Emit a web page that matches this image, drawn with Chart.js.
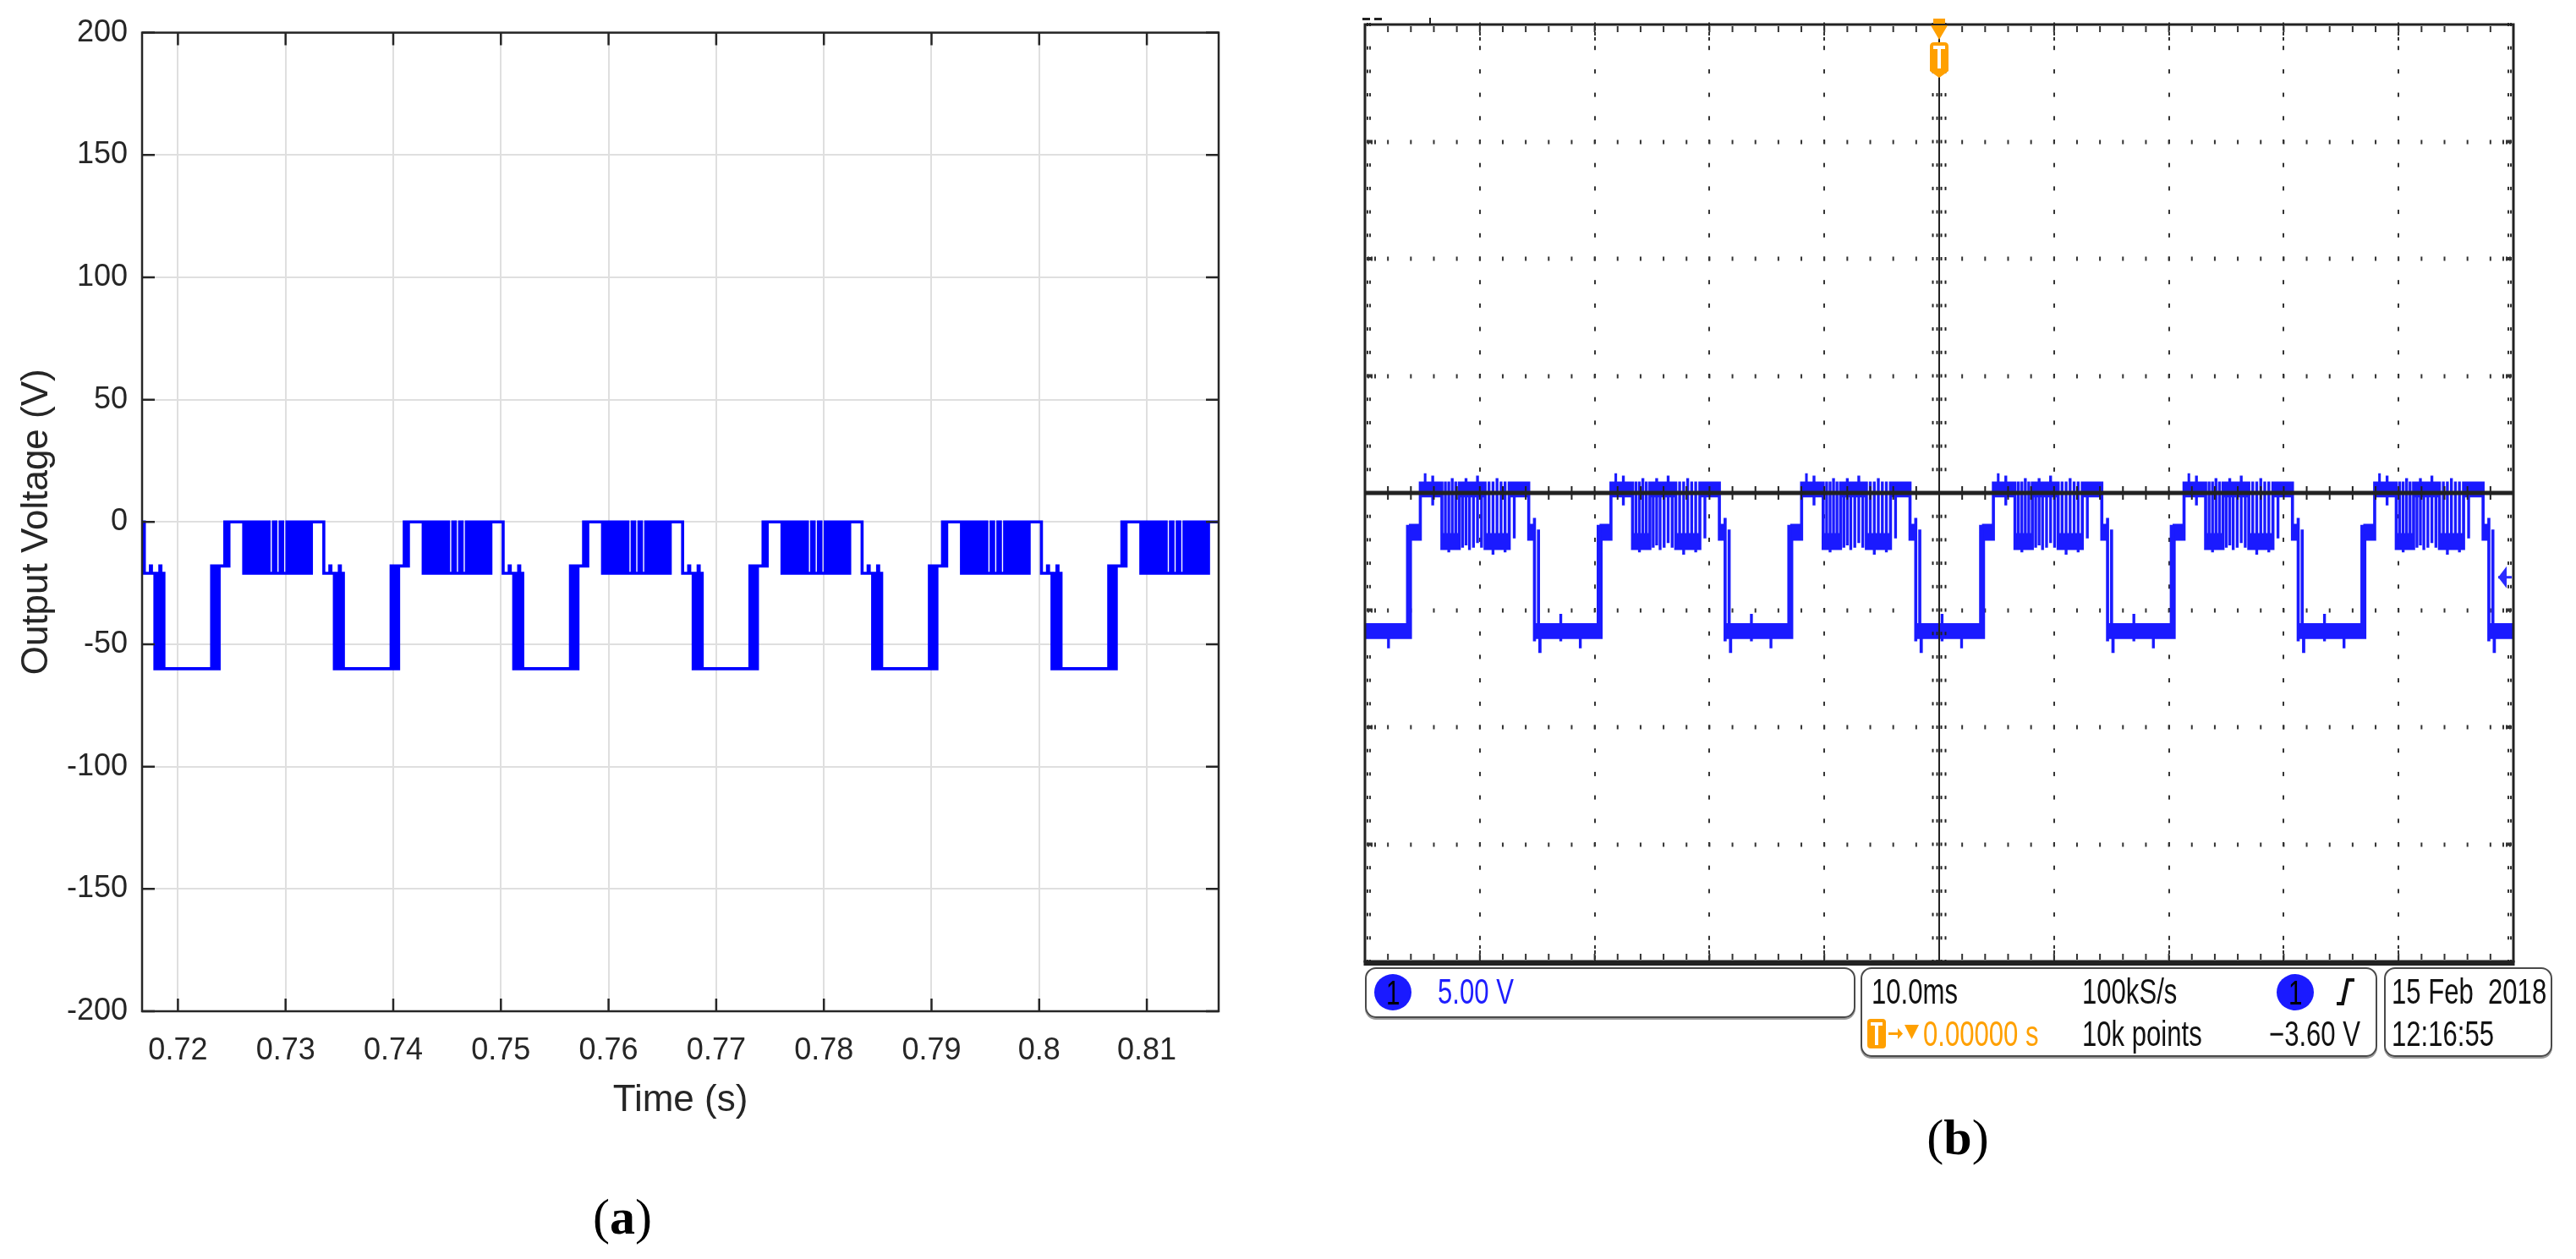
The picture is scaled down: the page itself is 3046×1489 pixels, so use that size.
<!DOCTYPE html>
<html>
<head>
<meta charset="utf-8">
<script src="https://cdn.jsdelivr.net/npm/chart.js@4/dist/chart.umd.min.js"></script>
<style>
html,body{margin:0;padding:0;background:#fff;}
body{width:3046px;height:1489px;position:relative;overflow:hidden;font-family:"Liberation Sans",Arial,sans-serif;}
#cA{position:absolute;left:0;top:0;width:1500px;height:1340px;}
#cB{position:absolute;left:1560px;top:0;width:1486px;height:1489px;}
.cap{position:absolute;font-family:"Liberation Serif","Times New Roman",serif;font-size:60px;line-height:60px;color:#000;transform:translateX(-50%);white-space:nowrap;}
.cap b{font-weight:bold;}
.box{position:absolute;border:2px solid #4a4a4a;border-radius:13px;box-sizing:border-box;box-shadow:0 2px 0 #9a9a9a;}
.st{position:absolute;font-family:"Liberation Sans",Arial,sans-serif;font-size:42px;line-height:42px;white-space:nowrap;transform:scaleX(0.74);transform-origin:0 50%;color:#111;}
.ch{position:absolute;width:44px;height:43px;border-radius:50%;background:#1a1aff;display:flex;align-items:center;justify-content:center;}
.ch span{font-family:"Liberation Sans",Arial,sans-serif;font-size:40px;line-height:40px;color:#000;transform:scaleX(0.74);display:inline-block;}
.ic{position:absolute;}
</style>
</head>
<body>
<canvas id="cA" width="1500" height="1340"></canvas>
<canvas id="cB" width="1486" height="1489"></canvas>

<div class="cap" style="left:736px;top:1409px">(<b>a</b>)</div>
<div class="cap" style="left:2315px;top:1315px">(<b>b</b>)</div>

<div class="box" style="left:1614px;top:1144px;width:580px;height:60px"></div>
<div class="box" style="left:2200px;top:1144px;width:611px;height:106px"></div>
<div class="box" style="left:2819px;top:1144px;width:199px;height:106px"></div>

<div class="ch" style="left:1625px;top:1152px"><span>1</span></div>
<div class="st" style="left:1700px;top:1152px;color:#1e1eff">5.00 V</div>

<div class="st" style="left:2213px;top:1152px">10.0ms</div>
<div class="st" style="left:2462px;top:1152px">100kS/s</div>
<div class="ch" style="left:2692px;top:1152px"><span>1</span></div>
<svg class="ic" style="left:2761px;top:1156px" width="26" height="34" viewBox="0 0 26 34">
  <polyline points="2,31 9,31 15,3 23,3" fill="none" stroke="#111" stroke-width="4"/>
</svg>
<div class="st" style="left:2828px;top:1152px">15 Feb&nbsp;&nbsp;2018</div>

<svg class="ic" style="left:2207px;top:1204px" width="66" height="38" viewBox="0 0 66 38">
  <rect x="1" y="1" width="22" height="35" rx="4" fill="#ffa000"/>
  <rect x="5" y="5" width="14" height="4" fill="#fff"/>
  <rect x="10" y="5" width="4" height="27" fill="#fff"/>
  <rect x="26" y="17" width="12" height="3" fill="#ffa000"/>
  <polygon points="37,12 43,18.5 37,25" fill="#ffa000"/>
  <polygon points="45,8 62,8 53.5,25" fill="#ffa000"/>
</svg>
<div class="st" style="left:2274px;top:1202px;color:#ffa000">0.00000 s</div>
<div class="st" style="left:2462px;top:1202px">10k points</div>
<div class="st" style="left:2683px;top:1202px">&minus;3.60 V</div>
<div class="st" style="left:2828px;top:1202px">12:16:55</div>

<script>
// ---------------- (a) simulation: switching instants (s) and new level (V) ----------------
const simTime = [
  0.71667,
  0.71688, 0.71744, 0.71754,
  0.71786, 0.71804, 0.71821, 0.71832, 0.71842, 0.71856, 0.71870,
  0.72313, 0.72330, 0.72348, 0.72365, 0.72383,
  0.72435, 0.72453, 0.72474,
  0.72611, 0.72635, 0.72658, 0.72682, 0.72705, 0.72729, 0.72753, 0.72776, 0.72800, 0.72823, 0.72847, 0.72886, 0.72910,
  0.72949, 0.72973, 0.73012, 0.73036, 0.73059, 0.73083, 0.73106, 0.73130, 0.73153, 0.73177, 0.73201, 0.73224, 0.73240,

  0.73355, 0.73411, 0.73421,
  0.73453, 0.73471, 0.73488, 0.73499, 0.73509, 0.73523, 0.73537,
  0.73980, 0.73997, 0.74015, 0.74032, 0.74050,
  0.74102, 0.74120, 0.74141,
  0.74278, 0.74302, 0.74325, 0.74349, 0.74372, 0.74396, 0.74420, 0.74443, 0.74467, 0.74490, 0.74514, 0.74553, 0.74577,
  0.74616, 0.74640, 0.74679, 0.74703, 0.74726, 0.74750, 0.74773, 0.74797, 0.74820, 0.74844, 0.74868, 0.74891, 0.74907,

  0.75021, 0.75077, 0.75087,
  0.75119, 0.75137, 0.75154, 0.75165, 0.75175, 0.75189, 0.75203,
  0.75646, 0.75663, 0.75681, 0.75698, 0.75716,
  0.75768, 0.75786, 0.75807,
  0.75944, 0.75968, 0.75991, 0.76015, 0.76038, 0.76062, 0.76086, 0.76109, 0.76133, 0.76156, 0.76180, 0.76219, 0.76243,
  0.76282, 0.76306, 0.76345, 0.76369, 0.76392, 0.76416, 0.76439, 0.76463, 0.76486, 0.76510, 0.76534, 0.76557, 0.76573,

  0.76688, 0.76744, 0.76754,
  0.76786, 0.76804, 0.76821, 0.76832, 0.76842, 0.76856, 0.76870,
  0.77313, 0.77330, 0.77348, 0.77365, 0.77383,
  0.77435, 0.77453, 0.77474,
  0.77611, 0.77635, 0.77658, 0.77682, 0.77705, 0.77729, 0.77753, 0.77776, 0.77800, 0.77823, 0.77847, 0.77886, 0.77910,
  0.77949, 0.77973, 0.78012, 0.78036, 0.78059, 0.78083, 0.78106, 0.78130, 0.78153, 0.78177, 0.78201, 0.78224, 0.78240,

  0.78355, 0.78411, 0.78421,
  0.78453, 0.78471, 0.78488, 0.78499, 0.78509, 0.78523, 0.78537,
  0.78980, 0.78997, 0.79015, 0.79032, 0.79050,
  0.79102, 0.79120, 0.79141,
  0.79278, 0.79302, 0.79325, 0.79349, 0.79372, 0.79396, 0.79420, 0.79443, 0.79467, 0.79490, 0.79514, 0.79553, 0.79577,
  0.79616, 0.79640, 0.79679, 0.79703, 0.79726, 0.79750, 0.79773, 0.79797, 0.79820, 0.79844, 0.79868, 0.79891, 0.79907,

  0.80021, 0.80077, 0.80087,
  0.80119, 0.80137, 0.80154, 0.80165, 0.80175, 0.80189, 0.80203,
  0.80646, 0.80663, 0.80681, 0.80698, 0.80716,
  0.80768, 0.80786, 0.80807,
  0.80944, 0.80968, 0.80991, 0.81015, 0.81038, 0.81062, 0.81086, 0.81109, 0.81133, 0.81156, 0.81180, 0.81219, 0.81243,
  0.81282, 0.81306, 0.81345, 0.81369, 0.81392, 0.81416, 0.81439, 0.81463, 0.81486, 0.81510, 0.81534, 0.81557, 0.81573,
  0.81667
];
const simVolt = [
  0,
  -21, -18, -21,
  -60, -21, -60, -18, -60, -21, -60,
  -18, -60, -18, -60, -18,
  0, -18, 0,
  -21, 0, -21, 0, -21, 0, -21, 0, -21, 0, -21, 0, -21, 0, -21, 0, -21, 0, -21, 0, -21, 0, -21, 0, -21, 0,

  -21, -18, -21,
  -60, -21, -60, -18, -60, -21, -60,
  -18, -60, -18, -60, -18,
  0, -18, 0,
  -21, 0, -21, 0, -21, 0, -21, 0, -21, 0, -21, 0, -21, 0, -21, 0, -21, 0, -21, 0, -21, 0, -21, 0, -21, 0,

  -21, -18, -21,
  -60, -21, -60, -18, -60, -21, -60,
  -18, -60, -18, -60, -18,
  0, -18, 0,
  -21, 0, -21, 0, -21, 0, -21, 0, -21, 0, -21, 0, -21, 0, -21, 0, -21, 0, -21, 0, -21, 0, -21, 0, -21, 0,

  -21, -18, -21,
  -60, -21, -60, -18, -60, -21, -60,
  -18, -60, -18, -60, -18,
  0, -18, 0,
  -21, 0, -21, 0, -21, 0, -21, 0, -21, 0, -21, 0, -21, 0, -21, 0, -21, 0, -21, 0, -21, 0, -21, 0, -21, 0,

  -21, -18, -21,
  -60, -21, -60, -18, -60, -21, -60,
  -18, -60, -18, -60, -18,
  0, -18, 0,
  -21, 0, -21, 0, -21, 0, -21, 0, -21, 0, -21, 0, -21, 0, -21, 0, -21, 0, -21, 0, -21, 0, -21, 0, -21, 0,

  -21, -18, -21,
  -60, -21, -60, -18, -60, -21, -60,
  -18, -60, -18, -60, -18,
  0, -18, 0,
  -21, 0, -21, 0, -21, 0, -21, 0, -21, 0, -21, 0, -21, 0, -21, 0, -21, 0, -21, 0, -21, 0, -21, 0, -21, 0,
  0
];
const simXRange = [0.71667, 0.81667];
const simXTicks = [0.72, 0.73, 0.74, 0.75, 0.76, 0.77, 0.78, 0.79, 0.80, 0.81];
const simXTickLabels = ['0.72', '0.73', '0.74', '0.75', '0.76', '0.77', '0.78', '0.79', '0.8', '0.81'];
const simYTicks = [-200, -150, -100, -50, 0, 50, 100, 150, 200];
const simYTickLabels = ['-200', '-150', '-100', '-50', '0', '50', '100', '150', '200'];

// ---------------- (b) oscilloscope: time (ms), displayed trace envelope low/high (V) ----------------
const scopeT = [
  -50.00, -48.00, -47.90,
  -46.35, -46.23, -46.10, -45.98, -45.24, -45.12, -44.80, -44.72, -44.15, -44.05,
  -43.36, -43.24, -43.05, -42.95, -42.75, -42.65, -42.45, -42.35, -42.15, -42.05, -41.85,
  -41.73, -41.55, -41.45, -41.25, -41.15, -40.95, -40.85, -40.60, -40.50, -40.25, -40.15, -39.90, -39.80,
  -39.60, -39.48, -39.25, -39.15, -38.90, -38.80, -38.55, -38.45, -38.20, -38.10, -37.85, -37.75, -37.50,
  -37.38, -37.05, -36.95, -35.80, -35.68,
  -35.30, -35.18, -34.95, -34.83, -34.70, -33.00, -32.90, -31.30, -31.20,

  -29.75, -29.63, -29.50, -29.38, -28.64, -28.52, -28.20, -28.12, -27.55, -27.45,
  -26.76, -26.64, -26.45, -26.35, -26.15, -26.05, -25.85, -25.75, -25.55, -25.45, -25.25,
  -25.13, -24.95, -24.85, -24.65, -24.55, -24.35, -24.25, -24.00, -23.90, -23.65, -23.55, -23.30, -23.20,
  -23.00, -22.88, -22.65, -22.55, -22.30, -22.20, -21.95, -21.85, -21.60, -21.50, -21.25, -21.15, -20.90,
  -20.78, -20.45, -20.35, -19.20, -19.08,
  -18.70, -18.58, -18.35, -18.23, -18.10, -16.40, -16.30, -14.70, -14.60,

  -13.15, -13.03, -12.90, -12.78, -12.04, -11.92, -11.60, -11.52, -10.95, -10.85,
  -10.16, -10.04, -9.85, -9.75, -9.55, -9.45, -9.25, -9.15, -8.95, -8.85, -8.65,
  -8.53, -8.35, -8.25, -8.05, -7.95, -7.75, -7.65, -7.40, -7.30, -7.05, -6.95, -6.70, -6.60,
  -6.40, -6.28, -6.05, -5.95, -5.70, -5.60, -5.35, -5.25, -5.00, -4.90, -4.65, -4.55, -4.30,
  -4.18, -3.85, -3.75, -2.60, -2.48,
  -2.10, -1.98, -1.75, -1.63, -1.50, 0.20, 0.30, 1.90, 2.00,

  3.55, 3.67, 3.80, 3.92, 4.66, 4.78, 5.10, 5.18, 5.75, 5.85,
  6.54, 6.66, 6.85, 6.95, 7.15, 7.25, 7.45, 7.55, 7.75, 7.85, 8.05,
  8.17, 8.35, 8.45, 8.65, 8.75, 8.95, 9.05, 9.30, 9.40, 9.65, 9.75, 10.00, 10.10,
  10.30, 10.42, 10.65, 10.75, 11.00, 11.10, 11.35, 11.45, 11.70, 11.80, 12.05, 12.15, 12.40,
  12.52, 12.85, 12.95, 14.10, 14.22,
  14.60, 14.72, 14.95, 15.07, 15.20, 16.90, 17.00, 18.60, 18.70,

  20.15, 20.27, 20.40, 20.52, 21.26, 21.38, 21.70, 21.78, 22.35, 22.45,
  23.14, 23.26, 23.45, 23.55, 23.75, 23.85, 24.05, 24.15, 24.35, 24.45, 24.65,
  24.77, 24.95, 25.05, 25.25, 25.35, 25.55, 25.65, 25.90, 26.00, 26.25, 26.35, 26.60, 26.70,
  26.90, 27.02, 27.25, 27.35, 27.60, 27.70, 27.95, 28.05, 28.30, 28.40, 28.65, 28.75, 29.00,
  29.12, 29.45, 29.55, 30.70, 30.82,
  31.20, 31.32, 31.55, 31.67, 31.80, 33.50, 33.60, 35.20, 35.30,

  36.75, 36.87, 37.00, 37.12, 37.86, 37.98, 38.30, 38.38, 38.95, 39.05,
  39.74, 39.86, 40.05, 40.15, 40.35, 40.45, 40.65, 40.75, 40.95, 41.05, 41.25,
  41.37, 41.55, 41.65, 41.85, 41.95, 42.15, 42.25, 42.50, 42.60, 42.85, 42.95, 43.20, 43.30,
  43.50, 43.62, 43.85, 43.95, 44.20, 44.30, 44.55, 44.65, 44.90, 45.00, 45.25, 45.35, 45.60,
  45.72, 46.05, 46.15, 47.30, 47.42,
  47.80, 47.92, 48.15, 48.27, 48.40,
  50.00
];
const scopeLo = [
  -6.2, -6.6, -6.2,
  -6.2, -6.2, -6.2, -2.0, -2.0, -0.15, -0.15, -0.15, -0.5, -0.15,
  -2.4, -2.4, -2.4, -2.4, -2.5, -2.4, -2.4, -2.4, -2.4, -2.4, -2.4,
  -0.15, -2.3, -0.15, -2.2, -0.15, -2.4, -0.15, -2.3, -0.15, -2.1, -0.15, -2.3, -0.15,
  -2.4, -2.4, -2.4, -2.4, -2.6, -2.4, -2.4, -2.4, -2.4, -2.4, -2.5, -2.4, -2.4,
  -0.15, -1.9, -0.15, -2.0, -2.0,
  -6.3, -6.2, -6.2, -6.8, -6.2, -6.3, -6.2, -6.6, -6.2,

  -6.2, -6.2, -6.2, -2.0, -2.0, -0.15, -0.15, -0.15, -0.5, -0.15,
  -2.4, -2.4, -2.4, -2.4, -2.5, -2.4, -2.4, -2.4, -2.4, -2.4, -2.4,
  -0.15, -2.3, -0.15, -2.2, -0.15, -2.4, -0.15, -2.3, -0.15, -2.1, -0.15, -2.3, -0.15,
  -2.4, -2.4, -2.4, -2.4, -2.6, -2.4, -2.4, -2.4, -2.4, -2.4, -2.5, -2.4, -2.4,
  -0.15, -1.9, -0.15, -2.0, -2.0,
  -6.3, -6.2, -6.2, -6.8, -6.2, -6.3, -6.2, -6.6, -6.2,

  -6.2, -6.2, -6.2, -2.0, -2.0, -0.15, -0.15, -0.15, -0.5, -0.15,
  -2.4, -2.4, -2.4, -2.4, -2.5, -2.4, -2.4, -2.4, -2.4, -2.4, -2.4,
  -0.15, -2.3, -0.15, -2.2, -0.15, -2.4, -0.15, -2.3, -0.15, -2.1, -0.15, -2.3, -0.15,
  -2.4, -2.4, -2.4, -2.4, -2.6, -2.4, -2.4, -2.4, -2.4, -2.4, -2.5, -2.4, -2.4,
  -0.15, -1.9, -0.15, -2.0, -2.0,
  -6.3, -6.2, -6.2, -6.8, -6.2, -6.3, -6.2, -6.6, -6.2,

  -6.2, -6.2, -6.2, -2.0, -2.0, -0.15, -0.15, -0.15, -0.5, -0.15,
  -2.4, -2.4, -2.4, -2.4, -2.5, -2.4, -2.4, -2.4, -2.4, -2.4, -2.4,
  -0.15, -2.3, -0.15, -2.2, -0.15, -2.4, -0.15, -2.3, -0.15, -2.1, -0.15, -2.3, -0.15,
  -2.4, -2.4, -2.4, -2.4, -2.6, -2.4, -2.4, -2.4, -2.4, -2.4, -2.5, -2.4, -2.4,
  -0.15, -1.9, -0.15, -2.0, -2.0,
  -6.3, -6.2, -6.2, -6.8, -6.2, -6.3, -6.2, -6.6, -6.2,

  -6.2, -6.2, -6.2, -2.0, -2.0, -0.15, -0.15, -0.15, -0.5, -0.15,
  -2.4, -2.4, -2.4, -2.4, -2.5, -2.4, -2.4, -2.4, -2.4, -2.4, -2.4,
  -0.15, -2.3, -0.15, -2.2, -0.15, -2.4, -0.15, -2.3, -0.15, -2.1, -0.15, -2.3, -0.15,
  -2.4, -2.4, -2.4, -2.4, -2.6, -2.4, -2.4, -2.4, -2.4, -2.4, -2.5, -2.4, -2.4,
  -0.15, -1.9, -0.15, -2.0, -2.0,
  -6.3, -6.2, -6.2, -6.8, -6.2, -6.3, -6.2, -6.6, -6.2,

  -6.2, -6.2, -6.2, -2.0, -2.0, -0.15, -0.15, -0.15, -0.5, -0.15,
  -2.4, -2.4, -2.4, -2.4, -2.5, -2.4, -2.4, -2.4, -2.4, -2.4, -2.4,
  -0.15, -2.3, -0.15, -2.2, -0.15, -2.4, -0.15, -2.3, -0.15, -2.1, -0.15, -2.3, -0.15,
  -2.4, -2.4, -2.4, -2.4, -2.6, -2.4, -2.4, -2.4, -2.4, -2.4, -2.5, -2.4, -2.4,
  -0.15, -1.9, -0.15, -2.0, -2.0,
  -6.3, -6.2, -6.2, -6.8, -6.2,
  -6.2
];
const scopeHi = [
  -5.6, -5.6, -5.6,
  -1.4, -5.6, -1.35, -1.35, 0.45, 0.45, 0.8, 0.45, 0.7, 0.45,
  0.45, -1.75, 0.45, -1.75, 0.45, -1.75, 0.6, -1.75, 0.45, -1.75, 0.45,
  0.45, 0.45, 0.45, 0.6, 0.45, 0.45, 0.45, 0.45, 0.45, 0.7, 0.45, 0.45, 0.45,
  0.45, -1.75, 0.45, -1.75, 0.45, -1.75, 0.6, -1.75, 0.45, -1.75, 0.45, -1.75, 0.45,
  0.45, 0.45, 0.45, 0.45, -1.35,
  -1.1, -5.6, -1.6, -5.6, -5.6, -5.2, -5.6, -5.6, -5.6,

  -1.4, -5.6, -1.35, -1.35, 0.45, 0.45, 0.8, 0.45, 0.7, 0.45,
  0.45, -1.75, 0.45, -1.75, 0.45, -1.75, 0.6, -1.75, 0.45, -1.75, 0.45,
  0.45, 0.45, 0.45, 0.6, 0.45, 0.45, 0.45, 0.45, 0.45, 0.7, 0.45, 0.45, 0.45,
  0.45, -1.75, 0.45, -1.75, 0.45, -1.75, 0.6, -1.75, 0.45, -1.75, 0.45, -1.75, 0.45,
  0.45, 0.45, 0.45, 0.45, -1.35,
  -1.1, -5.6, -1.6, -5.6, -5.6, -5.2, -5.6, -5.6, -5.6,

  -1.4, -5.6, -1.35, -1.35, 0.45, 0.45, 0.8, 0.45, 0.7, 0.45,
  0.45, -1.75, 0.45, -1.75, 0.45, -1.75, 0.6, -1.75, 0.45, -1.75, 0.45,
  0.45, 0.45, 0.45, 0.6, 0.45, 0.45, 0.45, 0.45, 0.45, 0.7, 0.45, 0.45, 0.45,
  0.45, -1.75, 0.45, -1.75, 0.45, -1.75, 0.6, -1.75, 0.45, -1.75, 0.45, -1.75, 0.45,
  0.45, 0.45, 0.45, 0.45, -1.35,
  -1.1, -5.6, -1.6, -5.6, -5.6, -5.2, -5.6, -5.6, -5.6,

  -1.4, -5.6, -1.35, -1.35, 0.45, 0.45, 0.8, 0.45, 0.7, 0.45,
  0.45, -1.75, 0.45, -1.75, 0.45, -1.75, 0.6, -1.75, 0.45, -1.75, 0.45,
  0.45, 0.45, 0.45, 0.6, 0.45, 0.45, 0.45, 0.45, 0.45, 0.7, 0.45, 0.45, 0.45,
  0.45, -1.75, 0.45, -1.75, 0.45, -1.75, 0.6, -1.75, 0.45, -1.75, 0.45, -1.75, 0.45,
  0.45, 0.45, 0.45, 0.45, -1.35,
  -1.1, -5.6, -1.6, -5.6, -5.6, -5.2, -5.6, -5.6, -5.6,

  -1.4, -5.6, -1.35, -1.35, 0.45, 0.45, 0.8, 0.45, 0.7, 0.45,
  0.45, -1.75, 0.45, -1.75, 0.45, -1.75, 0.6, -1.75, 0.45, -1.75, 0.45,
  0.45, 0.45, 0.45, 0.6, 0.45, 0.45, 0.45, 0.45, 0.45, 0.7, 0.45, 0.45, 0.45,
  0.45, -1.75, 0.45, -1.75, 0.45, -1.75, 0.6, -1.75, 0.45, -1.75, 0.45, -1.75, 0.45,
  0.45, 0.45, 0.45, 0.45, -1.35,
  -1.1, -5.6, -1.6, -5.6, -5.6, -5.2, -5.6, -5.6, -5.6,

  -1.4, -5.6, -1.35, -1.35, 0.45, 0.45, 0.8, 0.45, 0.7, 0.45,
  0.45, -1.75, 0.45, -1.75, 0.45, -1.75, 0.6, -1.75, 0.45, -1.75, 0.45,
  0.45, 0.45, 0.45, 0.6, 0.45, 0.45, 0.45, 0.45, 0.45, 0.7, 0.45, 0.45, 0.45,
  0.45, -1.75, 0.45, -1.75, 0.45, -1.75, 0.6, -1.75, 0.45, -1.75, 0.45, -1.75, 0.45,
  0.45, 0.45, 0.45, 0.45, -1.35,
  -1.1, -5.6, -1.6, -5.6, -5.6,
  -5.6
];
const scopeXRange = [-50, 50];     // ms, 10 ms/div
const scopeYRange = [-20, 20];     // V, 5 V/div
const scopeXMajor = [-50, -40, -30, -20, -10, 0, 10, 20, 30, 40, 50];
const scopeYMajor = [-20, -15, -10, -5, 0, 5, 10, 15, 20];
const scopeXMinorStep = 2;
const scopeYMinorStep = 1;
const trigTime = 0;
const trigLevel = -3.6;

// ---------------- chart (a) ----------------
const FONT = '"Liberation Sans", Arial, Helvetica, sans-serif';
const AX = '#262626';

const matlabBox = {
  id: 'matlabBox',
  afterDatasetsDraw(chart) {
    const {ctx, chartArea: a, scales: {x, y}} = chart;
    ctx.save();
    ctx.strokeStyle = AX;
    ctx.lineWidth = 2.5;
    ctx.strokeRect(a.left, a.top, a.right - a.left, a.bottom - a.top);
    const L = 15;
    ctx.beginPath();
    simXTicks.forEach(v => {
      const p = x.getPixelForValue(v);
      ctx.moveTo(p, a.bottom); ctx.lineTo(p, a.bottom - L);
      ctx.moveTo(p, a.top); ctx.lineTo(p, a.top + L);
    });
    simYTicks.forEach(v => {
      const p = y.getPixelForValue(v);
      ctx.moveTo(a.left, p); ctx.lineTo(a.left + L, p);
      ctx.moveTo(a.right, p); ctx.lineTo(a.right - L, p);
    });
    ctx.stroke();
    ctx.restore();
  }
};

new Chart(document.getElementById('cA'), {
  type: 'line',
  data: {
    datasets: [{
      data: simTime.map((t, i) => ({x: t, y: simVolt[i]})),
      borderColor: '#0000ff',
      borderWidth: 3.6,
      stepped: true,
      pointRadius: 0,
      fill: false
    }]
  },
  options: {
    responsive: false,
    animation: false,
    events: [],
    layout: {padding: {top: 38, right: 59, bottom: 12, left: 0}},
    plugins: {legend: {display: false}, tooltip: {enabled: false}},
    scales: {
      x: {
        type: 'linear',
        min: simXRange[0], max: simXRange[1],
        afterBuildTicks: s => { s.ticks = simXTicks.map(v => ({value: v})); },
        afterFit: s => { s.height = 132; },
        grid: {color: '#dfdfdf', lineWidth: 2, drawTicks: false},
        border: {display: false},
        ticks: {
          padding: 25, color: AX, autoSkip: false, maxRotation: 0,
          font: {family: FONT, size: 36},
          callback: (v, i) => simXTickLabels[i]
        },
        title: {display: true, text: 'Time (s)', color: AX, padding: {top: 0, bottom: 0},
                font: {family: FONT, size: 44, lineHeight: 1.2}}
      },
      y: {
        type: 'linear',
        min: -200, max: 200,
        afterBuildTicks: s => { s.ticks = simYTicks.map(v => ({value: v})); },
        afterFit: s => { s.width = 168; },
        grid: {color: '#dfdfdf', lineWidth: 2, drawTicks: false},
        border: {display: false},
        ticks: {
          padding: 17, color: AX, autoSkip: false,
          font: {family: FONT, size: 36},
          callback: (v, i) => simYTickLabels[i]
        },
        title: {display: true, text: 'Output Voltage (V)', color: AX, padding: {top: 17, bottom: 0},
                font: {family: FONT, size: 44, lineHeight: 1.2}}
      }
    }
  },
  plugins: [matlabBox]
});

// ---------------- chart (b) ----------------
const GR = '#333333';
const scopeGraticule = {
  id: 'scopeGraticule',
  beforeDatasetsDraw(chart) {
    const {ctx, chartArea: a, scales: {x, y}} = chart;
    const xs = [], ys = [];
    for (let v = scopeXRange[0]; v <= scopeXRange[1] + 1e-9; v += scopeXMinorStep) xs.push(v);
    for (let v = scopeYRange[0]; v <= scopeYRange[1] + 1e-9; v += scopeYMinorStep) ys.push(v);
    ctx.save();
    ctx.fillStyle = GR;
    scopeXMajor.forEach(v => {
      const px = Math.round(x.getPixelForValue(v));
      if (v !== trigTime && v > scopeXRange[0] && v < scopeXRange[1]) {
        ys.forEach(w => { const py = y.getPixelForValue(w); ctx.fillRect(px - 1, py - 2.5, 2, 5); });
      }
      for (let k = 0; k < 3; k++) {
        ctx.fillRect(px - 1, a.top + 3 + k * 6, 2, 4);
        ctx.fillRect(px - 1, a.bottom - 7 - k * 6, 2, 4);
      }
    });
    scopeYMajor.forEach(w => {
      const py = Math.round(y.getPixelForValue(w));
      if (w !== 0 && w > scopeYRange[0] && w < scopeYRange[1]) {
        xs.forEach(v => { const px = x.getPixelForValue(v); ctx.fillRect(px - 1, py - 2.5, 2, 5); });
        for (let k = 0; k < 3; k++) {
          ctx.fillRect(a.left + 3 + k * 4, py - 2.5, 2, 5);
          ctx.fillRect(a.right - 5 - k * 4, py - 2.5, 2, 5);
        }
      }
    });
    xs.forEach(v => {
      const px = x.getPixelForValue(v);
      ctx.fillRect(px - 1, a.top + 2, 2, 7);
      ctx.fillRect(px - 1, a.bottom - 9, 2, 7);
    });
    ys.forEach(w => {
      const py = y.getPixelForValue(w);
      ctx.fillRect(a.left + 2, py - 2, 2, 4); ctx.fillRect(a.left + 5, py - 2, 2, 4);
      ctx.fillRect(a.right - 4, py - 2, 2, 4); ctx.fillRect(a.right - 7, py - 2, 2, 4);
    });
    ctx.restore();
  },
  afterDatasetsDraw(chart) {
    const {ctx, chartArea: a, scales: {x, y}} = chart;
    const xs = [], ys = [];
    for (let v = scopeXRange[0]; v <= scopeXRange[1] + 1e-9; v += scopeXMinorStep) xs.push(v);
    for (let v = scopeYRange[0]; v <= scopeYRange[1] + 1e-9; v += scopeYMinorStep) ys.push(v);
    const x0 = x.getPixelForValue(trigTime);
    const y0 = y.getPixelForValue(0);
    ctx.save();
    ctx.fillStyle = '#222';
    ctx.fillRect(a.left, y0 - 2.5, a.right - a.left, 5);
    xs.forEach(v => { const px = x.getPixelForValue(v); ctx.fillRect(px - 1, y0 - 8, 2, 16); });
    ctx.fillRect(x0 - 1, a.top, 2, a.bottom - a.top);
    ys.forEach(w => {
      const py = y.getPixelForValue(w);
      for (let k = -3; k <= 3; k += 2) ctx.fillRect(x0 + k * 2.5 - 1, py - 2, 2, 4);
    });
    ctx.strokeStyle = '#222';
    ctx.lineWidth = 3;
    ctx.strokeRect(a.left, a.top, a.right - a.left, a.bottom - a.top);
    ctx.fillRect(a.left - 1.5, a.bottom - 1, a.right - a.left + 3, 6);
    ctx.fillRect(a.left - 3, a.top - 8, 9, 3);
    ctx.fillRect(a.left + 11, a.top - 8, 9, 3);
    ctx.fillRect(a.left + 76, a.top - 8, 2, 8);
    const OR = '#ffa000';
    ctx.fillStyle = OR;
    ctx.fillRect(x0 - 7, a.top - 7, 14, 6);
    ctx.beginPath();
    ctx.moveTo(x0 - 10, a.top + 1); ctx.lineTo(x0 + 10, a.top + 1); ctx.lineTo(x0, a.top + 18);
    ctx.closePath(); ctx.fill();
    ctx.beginPath();
    ctx.moveTo(x0 - 11, a.top + 26);
    ctx.quadraticCurveTo(x0 - 11, a.top + 21, x0 - 6, a.top + 21);
    ctx.lineTo(x0 + 6, a.top + 21);
    ctx.quadraticCurveTo(x0 + 11, a.top + 21, x0 + 11, a.top + 26);
    ctx.lineTo(x0 + 11, a.top + 55);
    ctx.lineTo(x0, a.top + 63);
    ctx.lineTo(x0 - 11, a.top + 55);
    ctx.closePath(); ctx.fill();
    ctx.fillStyle = '#fff';
    ctx.fillRect(x0 - 7, a.top + 25, 14, 4);
    ctx.fillRect(x0 - 2, a.top + 25, 4, 27);
    const yl = y.getPixelForValue(trigLevel);
    ctx.fillStyle = '#2a2aff';
    ctx.beginPath();
    ctx.moveTo(a.right - 18, yl); ctx.lineTo(a.right - 8, yl - 13); ctx.lineTo(a.right - 8, yl + 13);
    ctx.closePath(); ctx.fill();
    ctx.fillRect(a.right - 18, yl - 1.5, 16, 3);
    ctx.restore();
  }
};

new Chart(document.getElementById('cB'), {
  type: 'line',
  data: {
    datasets: [
      {
        data: scopeT.map((t, i) => ({x: t, y: scopeHi[i]})),
        borderColor: '#1a1aff', backgroundColor: '#1a1aff',
        borderWidth: 2, stepped: true, pointRadius: 0, fill: '+1'
      },
      {
        data: scopeT.map((t, i) => ({x: t, y: scopeLo[i]})),
        borderColor: '#1a1aff',
        borderWidth: 2, stepped: true, pointRadius: 0, fill: false
      }
    ]
  },
  options: {
    responsive: false,
    animation: false,
    events: [],
    layout: {padding: {left: 54, top: 29, right: 74, bottom: 352}},
    plugins: {legend: {display: false}, tooltip: {enabled: false}, filler: {propagate: false}},
    scales: {
      x: {type: 'linear', min: scopeXRange[0], max: scopeXRange[1], display: false},
      y: {type: 'linear', min: scopeYRange[0], max: scopeYRange[1], display: false}
    }
  },
  plugins: [scopeGraticule]
});
</script>
</body>
</html>
